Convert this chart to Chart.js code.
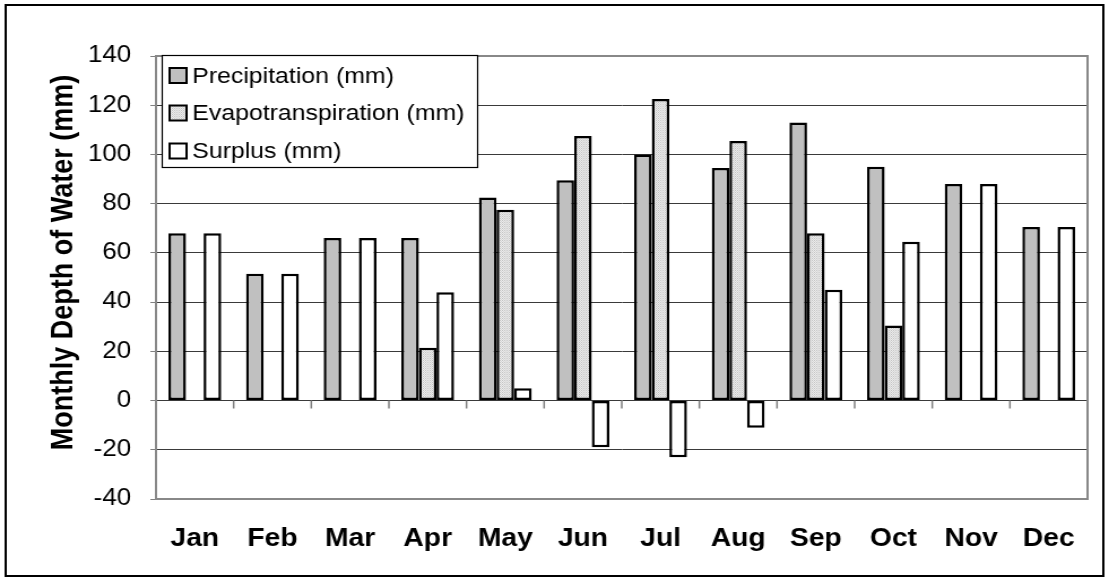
<!DOCTYPE html>
<html>
<head>
<meta charset="utf-8">
<title>Monthly Depth of Water</title>
<script src="https://cdn.jsdelivr.net/npm/chart.js@4.4.0/dist/chart.umd.min.js"></script>
<style>
	html, body { margin: 0; padding: 0; background: #fff; }
</style>
</head>
<body>
<!-- the chart is drawn on a narrower canvas and stretched sideways, like the reference -->
<canvas id="monthly-water" width="981" height="581" style="display:block;width:1109px;height:581px"></canvas>
<script>
// Data
const months = ["Jan", "Feb", "Mar", "Apr", "May", "Jun", "Jul", "Aug", "Sep", "Oct", "Nov", "Dec"];
const precipitation = [68, 51.5, 66, 66, 82.5, 89.5, 100, 94.5, 113, 95, 88, 70.5];
const evapotranspiration = [0, 0, 0, 21.5, 77.5, 107.5, 122.5, 105.5, 68, 30.5, 0, 0];
const surplus = [68, 51.5, 66, 44, 5, -19, -23, -11, 45, 64.5, 88, 70.5];

const yTitle = "Monthly Depth of Water (mm)";
const fontFamily = "Arial, 'Liberation Sans', sans-serif";

// stippled fill for the evapotranspiration bars
function makeStipple() {
	let c = document.createElement("canvas");
	c.width = 2;
	c.height = 2;
	let g = c.getContext("2d");
	g.fillStyle = "#ececec";
	g.fillRect(0, 0, 2, 2);
	g.fillStyle = "#c4c4c4";
	g.fillRect(0, 0, 1, 1);
	g.fillStyle = "#d6d6d6";
	g.fillRect(1, 1, 1, 1);
	return g.createPattern(c, "repeat");
}

const framePlugin = {
	id: "frame",
	afterDatasetsDraw(chart) {
		let { ctx, chartArea, scales } = chart;
		let x = scales.x;
		let y0 = scales.y.getPixelForValue(0);

		// small tick marks hanging from the zero line at category boundaries
		ctx.save();
		ctx.strokeStyle = "#808080";
		ctx.lineWidth = 1.5;
		ctx.beginPath();
		for (let i = 0; i <= months.length; i++) {
			let px;
			if (i === 0) px = chartArea.left;
			else if (i === months.length) px = chartArea.right;
			else px = (x.getPixelForTick(i - 1) + x.getPixelForTick(i)) / 2;
			ctx.moveTo(px, y0);
			ctx.lineTo(px, y0 + 8);
		}
		ctx.stroke();

		// plot area frame
		ctx.strokeStyle = "#888";
		ctx.lineWidth = 2;
		ctx.strokeRect(chartArea.left, chartArea.top, chartArea.right - chartArea.left, chartArea.bottom - chartArea.top);
		ctx.restore();
	},
	afterDraw(chart) {
		let { ctx } = chart;
		ctx.save();

		// outer border
		ctx.strokeStyle = "#000";
		ctx.lineWidth = 2;
		ctx.strokeRect(5, 5, 971, 571);

		// rotated axis title
		ctx.translate(56.5, 262.5);
		ctx.rotate(-Math.PI / 2);
		ctx.font = "bold 27px " + fontFamily;
		ctx.fillStyle = "#000";
		ctx.textAlign = "center";
		ctx.textBaseline = "middle";
		ctx.fillText(yTitle, 0, 0);
		ctx.restore();

		// legend box inside the plot
		ctx.save();
		ctx.fillStyle = "#fff";
		ctx.fillRect(143.5, 55.5, 279, 112);
		ctx.strokeStyle = "#000";
		ctx.lineWidth = 1.2;
		ctx.strokeRect(143.5, 55.5, 279, 112);
		ctx.font = "22px " + fontFamily;
		ctx.textBaseline = "middle";
		ctx.textAlign = "left";
		let rows = [75.5, 113, 151];
		chart.data.datasets.forEach((ds, i) => {
			let cy = rows[i];
			ctx.fillStyle = ds.backgroundColor;
			ctx.fillRect(150, cy - 7.5, 15, 15);
			ctx.strokeStyle = "#000";
			ctx.lineWidth = 2;
			ctx.strokeRect(150, cy - 7.5, 15, 15);
			ctx.fillStyle = "#000";
			ctx.fillText(ds.label, 170, cy + 1);
		});
		ctx.restore();
	},
};

let ctx = document.getElementById("monthly-water").getContext("2d");

let barChart = new Chart(ctx, {
	type: "bar",
	data: {
		labels: months,
		datasets: [
			{
				label: "Precipitation (mm)",
				data: precipitation,
				backgroundColor: "#c0c0c0",
				borderColor: "#000",
				borderWidth: 2.5,
				borderSkipped: false,
			},
			{
				label: "Evapotranspiration (mm)",
				data: evapotranspiration,
				backgroundColor: makeStipple(),
				borderColor: "#000",
				borderWidth: 2.5,
				borderSkipped: false,
			},
			{
				label: "Surplus (mm)",
				data: surplus,
				backgroundColor: "#fff",
				borderColor: "#000",
				borderWidth: 2.5,
				borderSkipped: false,
			},
		],
	},
	options: {
		responsive: false,
		animation: false,
		devicePixelRatio: 1,
		layout: {
			padding: { top: 56, right: 19, bottom: 0, left: 0 },
		},
		datasets: {
			bar: {
				categoryPercentage: 0.68,
				barPercentage: 1,
			},
		},
		scales: {
			x: {
				grid: { display: false, drawTicks: false },
				border: { display: true, color: "#888", width: 2 },
				ticks: {
					color: "#000",
					padding: 25,
					font: { family: fontFamily, size: 25, weight: "bold" },
				},
				afterFit(scale) {
					scale.height = 82;
				},
			},
			y: {
				min: -40,
				max: 140,
				ticks: {
					stepSize: 20,
					color: "#000",
					padding: 17,
					font: { family: fontFamily, size: 23 },
				},
				grid: {
					color: "#3a3a3a",
					lineWidth: 1,
					drawTicks: true,
					tickLength: 5,
					tickColor: "#808080",
				},
				border: { display: true, color: "#888", width: 2 },
				afterFit(scale) {
					scale.width = 138;
				},
			},
		},
		plugins: {
			legend: { display: false },
			tooltip: { enabled: false },
		},
	},
	plugins: [framePlugin],
});
</script>
</body>
</html>
